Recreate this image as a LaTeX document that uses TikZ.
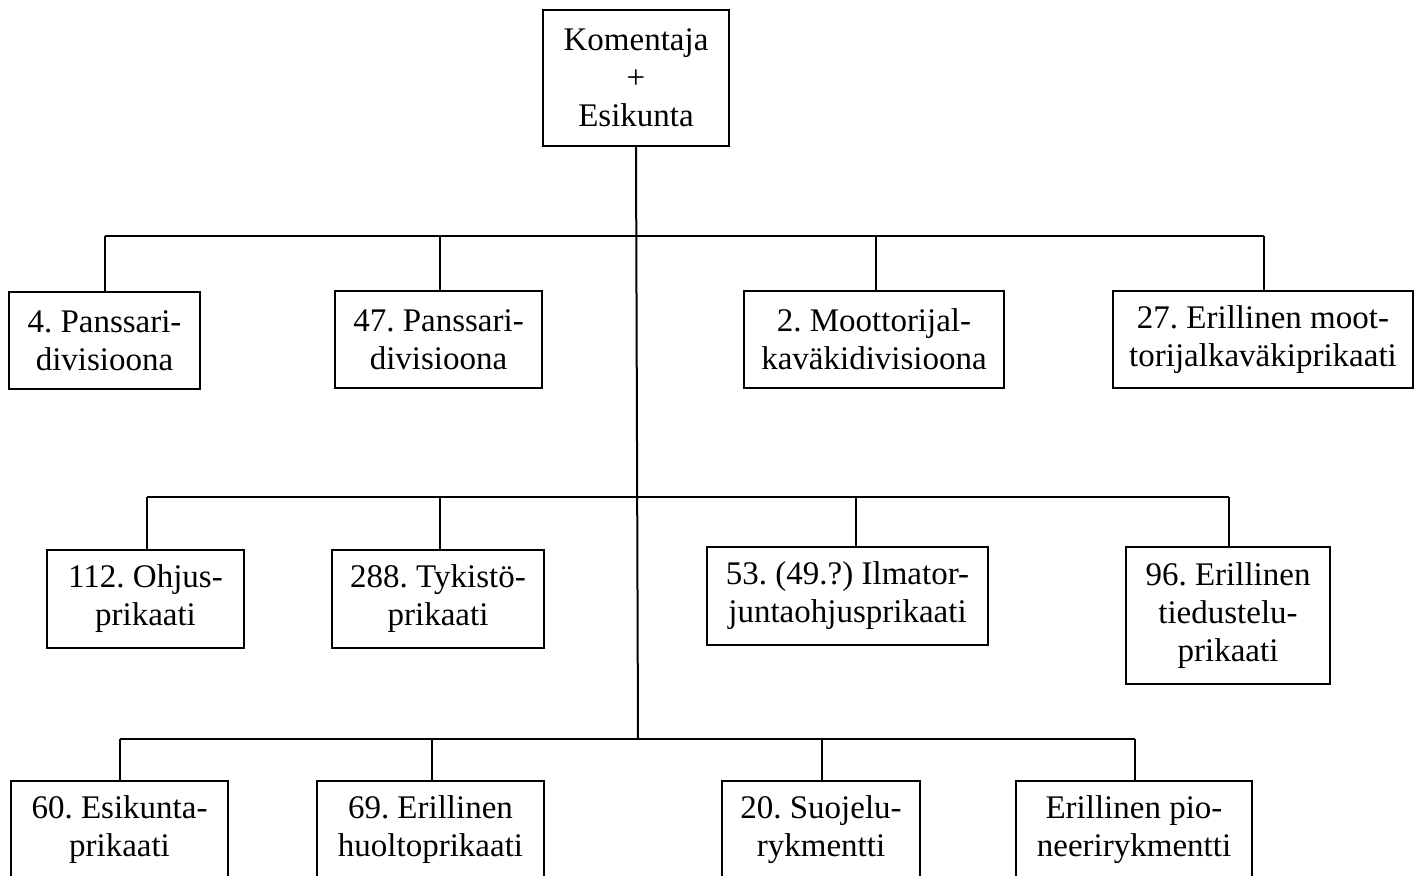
\documentclass[tikz,border=0pt]{standalone}
\usepackage{fontspec}
\setmainfont{Liberation Serif}
\frenchspacing
\begin{document}
\begin{tikzpicture}[x=0.5pt,y=-0.5pt,
  box/.style={draw,line width=1pt,align=center,inner sep=0pt,font=\fontsize{16.5}{19}\selectfont},
  link/.style={line width=1pt}]
\useasboundingbox (0,0) rectangle (1415,875);
\clip (0,0) rectangle (1415,875);
% top
\node[box,minimum width=93pt,minimum height=68pt] (top) at (636,78) {Komentaja\\+\\Esikunta};
% row 1
\node[box,minimum width=95.5pt,minimum height=48.5pt] (A) at (104.5,340.5) {4. Panssari-\\divisioona};
\node[box,minimum width=103.5pt,minimum height=48.5pt] (B) at (438.5,339.5) {47. Panssari-\\divisioona};
\node[box,minimum width=130pt,minimum height=48.5pt] (C) at (874,339.5) {2. Moottorijal-\\kaväkidivisioona};
\node[box,minimum width=150pt,minimum height=48.5pt] (D) at (1263,339.5) {27. Erillinen moot-\\torijalkaväkiprikaati};
% row 2
\node[box,minimum width=98.5pt,minimum height=49pt] (E) at (145.5,599) {112. Ohjus-\\prikaati};
\node[box,minimum width=106pt,minimum height=49pt] (F) at (438,599) {288. Tykistö-\\prikaati};
\node[box,minimum width=140.5pt,minimum height=49pt] (G) at (847.5,596) {53. (49.?) Ilmator-\\juntaohjusprikaati};
\node[box,minimum width=102pt,minimum height=68.5pt] (H) at (1228,615.5) {96. Erillinen\\tiedustelu-\\prikaati};
% row 3
\node[box,minimum width=108.5pt,minimum height=48.5pt] (I) at (119.5,829.5) {60. Esikunta-\\prikaati};
\node[box,minimum width=113.5pt,minimum height=48.5pt] (J) at (430.5,829.5) {69. Erillinen\\huoltoprikaati};
\node[box,minimum width=99pt,minimum height=48.5pt] (K) at (821,829.5) {20. Suojelu-\\rykmentti};
\node[box,minimum width=118pt,minimum height=48.5pt] (L) at (1134,829.5) {Erillinen pio-\\neerirykmentti};
% junctions
\coordinate (jA) at (105,236);
\coordinate (jB) at (440,236);
\coordinate (jC) at (876,236);
\coordinate (jD) at (1264,236);
\coordinate (jE) at (147,497);
\coordinate (jF) at (440,497);
\coordinate (jG) at (856,497);
\coordinate (jH) at (1229,497);
\coordinate (jI) at (120,739);
\coordinate (jJ) at (431.5,739);
\coordinate (jK) at (822,739);
\coordinate (jL) at (1134.5,739);
\coordinate (trunk) at (638,739);
% connectors
\draw[link] (top.south) -- (trunk);
\draw[link] (jA) -- (jD);
\draw[link] (jE) -- (jH);
\draw[link] (jI) -- (jL);
\draw[link] (jA) -- (jA |- A.north);
\draw[link] (jB) -- (jB |- B.north);
\draw[link] (jC) -- (jC |- C.north);
\draw[link] (jD) -- (jD |- D.north);
\draw[link] (jE) -- (jE |- E.north);
\draw[link] (jF) -- (jF |- F.north);
\draw[link] (jG) -- (jG |- G.north);
\draw[link] (jH) -- (jH |- H.north);
\draw[link] (jI) -- (jI |- I.north);
\draw[link] (jJ) -- (jJ |- J.north);
\draw[link] (jK) -- (jK |- K.north);
\draw[link] (jL) -- (jL |- L.north);
\end{tikzpicture}
\end{document}
